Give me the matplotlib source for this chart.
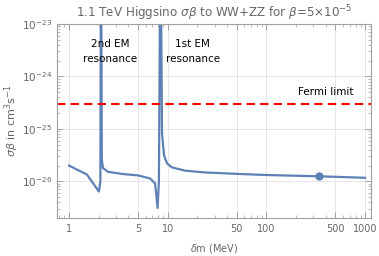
import numpy as np
import matplotlib.pyplot as plt
from matplotlib.ticker import FixedLocator, LogLocator, NullFormatter

# delta m (MeV) and sigma*beta (cm^3/s)
dm = [1.0, 1.52, 2.01, 2.08, 2.11, 2.15, 2.21, 2.48, 3.5, 5.0, 6.6, 7.45,
      7.9, 8.15, 8.45, 8.76, 9.2, 9.85, 11.0, 15.0, 23.8, 50.0, 100.0,
      340.0, 1000.0]
sigv = [2.0e-26, 1.35e-26, 6.4e-27, 1.0e-26, 1e-21, 2.6e-26, 1.8e-26,
        1.52e-26, 1.38e-26, 1.3e-26, 1.14e-26, 9.2e-27,
        3.1e-27, 1.0e-26, 1e-21, 8.0e-26, 3.1e-26, 2.2e-26, 1.85e-26,
        1.6e-26, 1.48e-26, 1.39e-26, 1.32e-26, 1.25e-26, 1.17e-26]

bench_dm = [340.0]
bench_sigv = [1.25e-26]

fermi_limit = 3e-25

xticks = [1, 5, 10, 50, 100, 500, 1000]
xticklabels = ["1", "5", "10", "50", "100", "500", "1000"]
yticks = [1e-26, 1e-25, 1e-24, 1e-23]

blue = "#5e81b5"
gray = "#666666"
framec = "#a0a0a0"

fig = plt.figure(figsize=(3.79, 2.56), dpi=100)
ax = fig.add_axes([0.1504, 0.1484, 0.8285, 0.7576])

ax.plot(dm, sigv, color=blue, lw=1.6, solid_joinstyle="round")
ax.plot(bench_dm, bench_sigv, "o", color=blue, ms=5)
ax.axhline(fermi_limit, color="red", lw=1.5, ls=(0, (4, 2.5)))

ax.set_xscale("log")
ax.set_yscale("log")
ax.set_xlim(0.756, 1148)
ax.set_ylim(2e-27, 1e-23)

ax.xaxis.set_major_locator(FixedLocator(xticks))
ax.set_xticklabels(xticklabels)
ax.xaxis.set_minor_locator(LogLocator(base=10, subs=np.arange(2, 10)))
ax.xaxis.set_minor_formatter(NullFormatter())
ax.yaxis.set_major_locator(FixedLocator(yticks))
ax.yaxis.set_minor_locator(LogLocator(base=10, subs=np.arange(2, 10)))
ax.yaxis.set_minor_formatter(NullFormatter())

ax.grid(True, which="major", color="#e6e6e6", lw=0.7)
ax.set_axisbelow(True)
for s in ax.spines.values():
    s.set_color(framec)
    s.set_linewidth(0.8)
ax.tick_params(which="both", direction="in", colors=framec, labelcolor=gray,
               labelsize=7, top=True, right=True)
ax.tick_params(axis="y", which="major", labelsize=7.5)
ax.tick_params(which="major", length=4, width=0.7)
ax.tick_params(which="minor", length=2, width=0.5)
ax.tick_params(axis="x", which="major", pad=4)

ax.set_title(r"1.1 TeV Higgsino $\sigma\beta$ to WW+ZZ for $\beta$=5×10$^{-5}$",
             fontsize=8.6, color=gray, pad=5)
ax.set_xlabel(r"$\delta$m (MeV)", fontsize=7, color=gray, labelpad=6)
ax.set_ylabel(r"$\sigma\beta$ in cm$^3$s$^{-1}$", fontsize=8, color=gray,
              labelpad=1)

ax.text(2.6, 2.95e-24, "2nd EM\nresonance", ha="center", va="center",
        fontsize=7.5, linespacing=1.6)
ax.text(18.0, 2.95e-24, "1st EM\nresonance", ha="center", va="center",
        fontsize=7.5, linespacing=1.6)
ax.text(772, 5.1e-25, "Fermi limit", ha="right", va="center", fontsize=7.5)

plt.savefig("out.png", dpi=100)
